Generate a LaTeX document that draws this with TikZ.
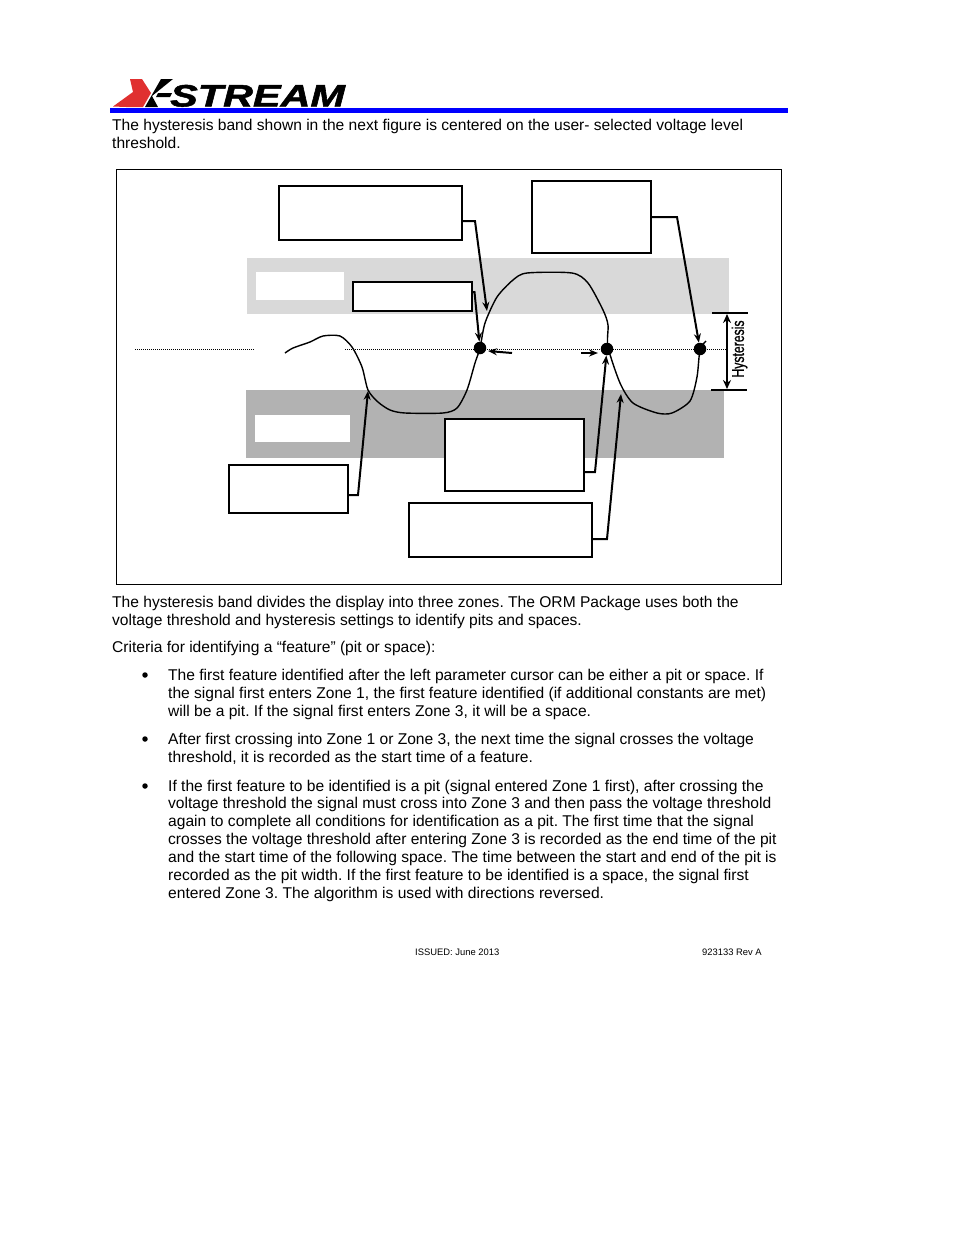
\documentclass[tikz,border=0pt]{standalone}
\usepackage{fontspec}
\setmainfont{Liberation Sans}
\newfontfamily\logofont[BoldItalicFeatures={FakeBold=1.5}]{Liberation Sans}
\newfontfamily\hystfont[FakeBold=1]{Liberation Sans}
\usetikzlibrary{arrows.meta, positioning}
\definecolor{mBandLight}{HTML}{D9D9D9}
\definecolor{mBandDark}{HTML}{B2B2B2}
\definecolor{mLogoRed}{HTML}{E03030}
\begin{document}
\begin{tikzpicture}[x=1pt, y=-1pt,
      para/.style={anchor=north west, inner sep=0pt, align=left, font=\fontsize{15.59}{18}\selectfont\frenchspacing},
      foot/.style={anchor=west, inner sep=0pt, font=\fontsize{9.4}{11}\selectfont},
      lbox/.style={draw, line width=1.4pt, fill=white, inner sep=0pt, outer sep=0pt, anchor=north west},
      hole/.style={fill=white, inner sep=0pt, anchor=north west},
      lead/.style={line width=2pt, -{Stealth[length=9pt,width=7pt]}},
      dot/.style={circle, fill=black, inner sep=0pt, minimum size=12.5pt},
      bul/.style={circle, fill=black, inner sep=0pt, minimum size=5.5pt}]
    \useasboundingbox (0,0) rectangle (954,1235);
    % logo
    \fill[mLogoRed] (113,106.5) -- (133,92) -- (130,79) -- (142,79) -- (151,93) -- (143,107) -- (126,107) -- cycle;
    \fill[black] (145,107) -- (161,79) -- (173,79) -- (152,96) -- (158,107) -- cycle;
    \fill[black] (158,93) -- (172,93) -- (170,97) -- (156,97) -- cycle;
    \node[inner sep=0pt, anchor=base west] (logo) at (170,106.5)
      {\scalebox{1.335}[1]{\fontsize{31}{31}\logofont\bfseries\itshape STREAM}};
    \fill[blue] (110,108) rectangle (788,113);
    \node[para] (intro) at (112,118.5) {The hysteresis band shown in the next figure is centered on the user- selected voltage level\\threshold.};
    % figure
    \draw[line width=1pt] (116,169) rectangle (781,584);
    \fill[mBandLight] (247,258) rectangle (729,314);
    \fill[mBandDark] (246,390) rectangle (724,458);
    \node[hole, minimum width=88pt, minimum height=28pt] (zoneone) at (256,272) {};
    \node[hole, minimum width=95pt, minimum height=27pt] (zonethree) at (255,415) {};
    \draw[line width=1pt, densely dotted] (135,349) -- (255,349);
    \draw[line width=1pt, densely dotted] (345,349) -- (727,349);
    \draw[line width=1.4pt] plot[smooth, tension=0.45] coordinates {(285,353) (293,348) (310,342) (323,336) (340,336) (352,347)
      (362,367) (368,390) (378,402) (390,410) (405,413) (443,413) (457,408) (467,390) (475,363) (480,348) (485,323) (497,297)
      (513,280) (527,273) (572,273) (588,283) (603,310) (608,325) (608,347) (620,383) (633,403) (657,413) (672,413)
      (690,401) (697,377) (700,350) (706,341)};
    \node[dot] (cross1) at (480,348) {};
    \node[dot] (cross2) at (607,349) {};
    \node[dot] (cross3) at (700,349) {};
    \node[lbox, minimum width=183pt, minimum height=54pt] (boxa) at (279,186) {};
    \node[lbox, minimum width=119pt, minimum height=72pt] (boxb) at (532,181) {};
    \node[lbox, minimum width=119pt, minimum height=29pt] (boxc) at (353,282) {};
    \node[lbox, minimum width=139pt, minimum height=72pt] (boxd) at (445,419) {};
    \node[lbox, minimum width=119pt, minimum height=48pt] (boxe) at (229,465) {};
    \node[lbox, minimum width=183pt, minimum height=54pt] (boxf) at (409,503) {};
    \coordinate (tipa) at (487,311);
    \coordinate (tipe) at (368,391);
    \coordinate (tipf) at (621,394);
    \draw[lead] ([yshift=-8pt]boxa.east) -- (475,221) -- (tipa);
    \draw[lead] (boxb.east) -- (677,217) -- (cross3);
    \draw[lead] ([yshift=4.5pt]boxc.east) -- (474.5,292) -- (cross1);
    \draw[lead] ([yshift=-17pt]boxd.east) -- (595,472) -- (cross2);
    \draw[lead] ([yshift=-6pt]boxe.east) -- (358,495) -- (tipe);
    \draw[lead] ([yshift=-9pt]boxf.east) -- (607,539) -- (tipf);
    \coordinate (taila) at (512,353);
    \coordinate (heada) at (488,351);
    \coordinate (tailb) at (581,353);
    \coordinate (headb) at (598,353);
    \draw[lead] (taila) -- (heada);
    \draw[lead] (tailb) -- (headb);
    % hysteresis scale
    \coordinate (hystl) at (712,313);
    \coordinate (hystr) at (748,313);
    \coordinate (hystm) at (711,390);
    \coordinate (hystn) at (747,390);
    \coordinate (hystt) at (727,314);
    \coordinate (hystb) at (727,389);
    \draw[line width=2pt] (hystl) -- (hystr);
    \draw[line width=2pt] (hystm) -- (hystn);
    \draw[line width=2pt, {Stealth[length=9pt,width=8pt]}-{Stealth[length=9pt,width=8pt]}] (hystt) -- (hystb);
    \node[rotate=90, inner sep=0pt] (hystlabel) at (739.5,349) {\scalebox{0.72}[1]{\fontsize{17}{17}\hystfont Hysteresis}};
    % body text
    \node[para] (bodya) at (112,595.5) {The hysteresis band divides the display into three zones. The ORM Package uses both the\\voltage threshold and hysteresis settings to identify pits and spaces.};
    \node[para] (bodyb) at (112,640.5) {Criteria for identifying a “feature” (pit or space):};
    \node[bul] (bula) at (145,675) {};
    \node[bul] (bulb) at (145,739) {};
    \node[bul] (bulc) at (145,786) {};
    \node[para] (itema) at (168,668.5) {The first feature identified after the left parameter cursor can be either a pit or space. If\\the signal first enters Zone 1, the first feature identified (if additional constants are met)\\will be a pit. If the signal first enters Zone 3, it will be a space.};
    \node[para] (itemb) at (168,732.5) {After first crossing into Zone 1 or Zone 3, the next time the signal crosses the voltage\\threshold, it is recorded as the start time of a feature.};
    \node[para, font=\fontsize{15.59}{17.85}\selectfont\frenchspacing] (itemc) at (168,779.5) {If the first feature to be identified is a pit (signal entered Zone 1 first), after crossing the\\voltage threshold the signal must cross into Zone 3 and then pass the voltage threshold\\again to complete all conditions for identification as a pit. The first time that the signal\\crosses the voltage threshold after entering Zone 3 is recorded as the end time of the pit\\and the start time of the following space. The time between the start and end of the pit is\\recorded as the pit width. If the first feature to be identified is a space, the signal first\\entered Zone 3. The algorithm is used with directions reversed.};
    \node[foot] (issued) at (415,952) {ISSUED: June 2013};
    \node[foot] (revision) at (702,952) {923133 Rev A};
  \end{tikzpicture}
\end{document}
